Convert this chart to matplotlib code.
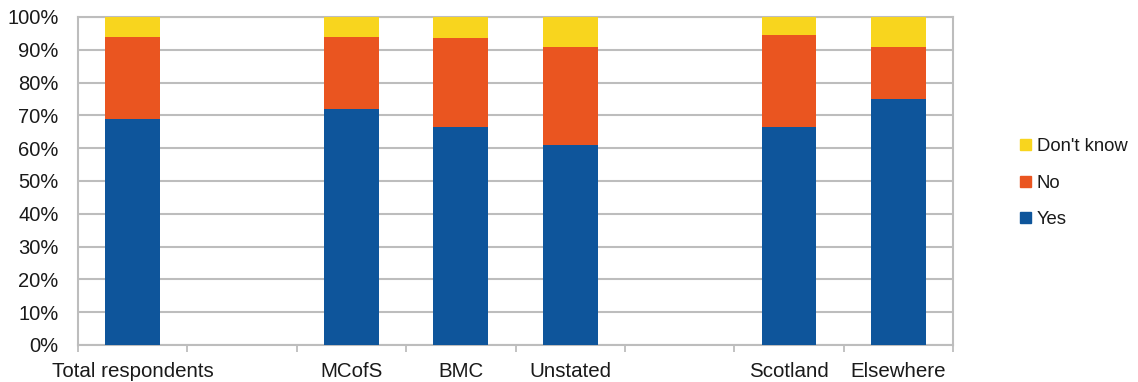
import matplotlib
matplotlib.use("Agg")
import matplotlib.pyplot as plt
from matplotlib.patches import Patch
import numpy as np

plt.rcParams['font.family'] = ['Liberation Sans', 'DejaVu Sans']

# Category slots (blank slots separate the groups)
categories = ["Total respondents", "", "MCofS", "BMC", "Unstated", "", "Scotland", "Elsewhere"]
yes = [69, None, 72, 66.5, 61, None, 66.5, 75]
no = [25, None, 22, 27, 30, None, 28, 16]
dont_know = [6, None, 6, 6.5, 9, None, 5.5, 9]

series_names = ["Yes", "No", "Don't know"]
colors = ["#0E559B", "#EA5520", "#F8D51E"]

fig = plt.figure(figsize=(11.38, 3.82), dpi=100)
ax = fig.add_axes([0.0685, 0.097, 0.7690, 0.8585])

idx = [i for i, c in enumerate(yes) if c is not None]
x = np.array(idx, dtype=float)
y_vals = np.array([yes[i] for i in idx])
n_vals = np.array([no[i] for i in idx])
d_vals = np.array([dont_know[i] for i in idx])

w = 0.5
ax.bar(x, y_vals, w, color=colors[0], zorder=3)
ax.bar(x, n_vals, w, bottom=y_vals, color=colors[1], zorder=3)
ax.bar(x, d_vals, w, bottom=y_vals + n_vals, color=colors[2], zorder=3)

ax.set_xlim(-0.5, len(categories) - 0.5)
ax.set_ylim(0, 100)
ax.set_yticks(np.arange(0, 101, 10))
ax.set_yticklabels([f"{v}%" for v in range(0, 101, 10)], fontsize=14.5, color="#1A1A1A")
ax.yaxis.grid(True, color="#BDBDBD", linewidth=1.5, zorder=0)
ax.tick_params(axis="y", length=0, pad=14)

# Boundary ticks between slots, labels centred on slots
ax.set_xticks(np.arange(-0.5, len(categories), 1.0))
ax.set_xticklabels([])
ax.tick_params(axis="x", which="major", length=5, width=1.3, color="#BDBDBD")
ax.set_xticks(np.arange(len(categories)), minor=True)
ax.set_xticklabels(categories, minor=True, fontsize=14.8, color="#1A1A1A")
ax.tick_params(axis="x", which="minor", length=0, pad=12)

for side in ["left", "right", "top", "bottom"]:
    ax.spines[side].set_color("#BDBDBD")
    ax.spines[side].set_linewidth(1.5)

handles = [Patch(color=colors[2]), Patch(color=colors[1]), Patch(color=colors[0])]
labels = ["Don't know", "No", "Yes"]
fig.legend(handles, labels, loc="center left", bbox_to_anchor=(0.882, 0.52),
           frameon=False, fontsize=13.3, handlelength=0.55, handleheight=0.55,
           handletextpad=0.35, labelspacing=1.05, labelcolor="#1A1A1A")

fig.savefig("out.png", dpi=100, facecolor="white")
